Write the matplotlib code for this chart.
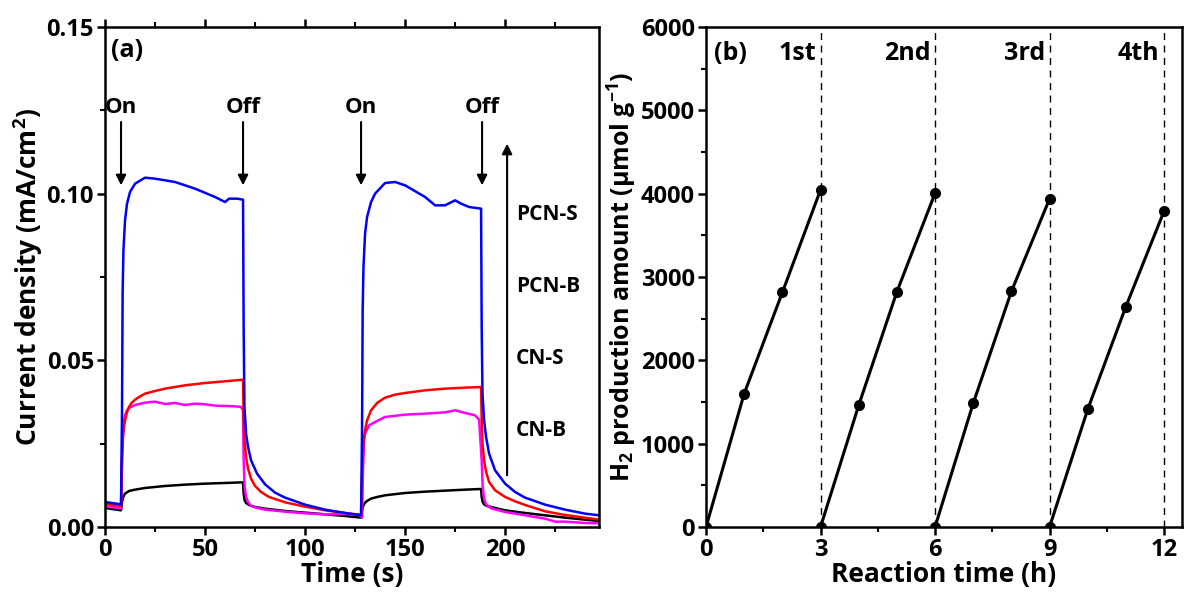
import numpy as np
import matplotlib
matplotlib.use('Agg')
import matplotlib.pyplot as plt

plt.rcParams['font.family'] = ['Open Sans', 'DejaVu Sans']
plt.rcParams['font.weight'] = 'bold'
plt.rcParams['mathtext.fontset'] = 'custom'
plt.rcParams['mathtext.rm'] = 'Open Sans:bold'
plt.rcParams['mathtext.bf'] = 'Open Sans:bold'
plt.rcParams['axes.linewidth'] = 1.8

# ---- panel (a): photocurrent transients (time in s, current in mA/cm2) ----
t_pcns = [0, 8, 8.5, 8.8, 9.2, 10, 11, 12.5, 15, 20, 25, 35, 45, 55, 60, 62,
          66, 69, 69.3, 69.7, 70.5, 71.5, 73, 76, 80, 85, 90, 100, 110, 120,
          128, 128.5, 128.8, 129.2, 130, 131, 133, 135, 140, 145, 150, 160,
          165, 170, 175, 178, 182, 188, 188.3, 188.7, 189.5, 190.5, 192, 195,
          200, 205, 210, 220, 230, 240, 247]
j_pcns = [0.0075, 0.0068, 0.035, 0.070, 0.083, 0.092, 0.097, 0.1005, 0.1030,
          0.1048, 0.1045, 0.1035, 0.1015, 0.0990, 0.0975, 0.0985, 0.0985,
          0.0982, 0.060, 0.036, 0.028, 0.024, 0.020, 0.0160, 0.0128, 0.0103,
          0.0088, 0.0067, 0.0052, 0.0042, 0.0035, 0.030, 0.065, 0.078, 0.088,
          0.093, 0.0975, 0.1000, 0.1032, 0.1035, 0.1025, 0.0990, 0.0965,
          0.0965, 0.0980, 0.0970, 0.0960, 0.0955, 0.060, 0.040, 0.032, 0.027,
          0.022, 0.0170, 0.0130, 0.0105, 0.0088, 0.0067, 0.0052, 0.0040,
          0.0035]

t_cns = [0, 8, 8.5, 9, 9.5, 10, 11, 12, 13, 15, 17, 20, 25, 30, 40, 50, 60,
         69, 69.3, 69.7, 70.5, 71.5, 73, 75, 78, 82, 90, 100, 110, 120, 128,
         128.5, 129, 129.5, 130, 131, 133, 136, 140, 145, 150, 160, 170, 180,
         188, 188.3, 188.7, 189.5, 190.5, 192, 195, 200, 205, 210, 220, 230,
         240, 247]
j_cns = [0.0069, 0.0063, 0.020, 0.027, 0.030, 0.0320, 0.0345, 0.0360, 0.0370,
         0.0382, 0.0390, 0.0400, 0.0408, 0.0415, 0.0425, 0.0432, 0.0437,
         0.0442, 0.032, 0.026, 0.021, 0.0175, 0.0145, 0.0123, 0.0105, 0.0090,
         0.0074, 0.0061, 0.0050, 0.0042, 0.0036, 0.015, 0.023, 0.027, 0.029,
         0.0320, 0.0350, 0.0372, 0.0388, 0.0397, 0.0402, 0.0410, 0.0415,
         0.0418, 0.0420, 0.032, 0.025, 0.020, 0.0165, 0.0135, 0.0110, 0.0090,
         0.0077, 0.0066, 0.0047, 0.0036, 0.0028, 0.0022]

t_cnb = [0, 8, 8.5, 9, 9.5, 10, 11, 12, 15, 20, 25, 30, 35, 40, 45, 50, 55,
         60, 65, 68, 69, 69.3, 69.8, 70.5, 71.5, 73, 76, 80, 90, 100, 110, 120,
         127, 128.5, 129, 129.5, 130, 132, 135, 140, 150, 160, 170, 175, 180,
         185, 187, 188.3, 188.8, 189.5, 190.5, 193, 200, 210, 220, 225, 230,
         240, 247]
j_cnb = [0.0062, 0.0056, 0.020, 0.029, 0.0320, 0.0335, 0.0350, 0.0357,
         0.0366, 0.0373, 0.0376, 0.0369, 0.0372, 0.0366, 0.0370, 0.0368,
         0.0364, 0.0363, 0.0362, 0.0360, 0.0350, 0.020, 0.012, 0.0090, 0.0075,
         0.0063, 0.0057, 0.0052, 0.0046, 0.0041, 0.0038, 0.0039, 0.0038,
         0.0028, 0.018, 0.026, 0.028, 0.0305, 0.0315, 0.0330, 0.0337, 0.0340,
         0.0344, 0.0350, 0.0342, 0.0335, 0.0322, 0.020, 0.012, 0.0085,
         0.0068, 0.0056, 0.0045, 0.0035, 0.0025, 0.0016, 0.0016, 0.0012,
         0.0011]

t_cnbk = [0, 8, 8.5, 9, 9.5, 10, 11, 12, 15, 20, 30, 40, 50, 60, 69, 69.3,
          69.8, 70.5, 72, 75, 80, 90, 100, 110, 120, 128, 128.5, 129, 129.5,
          130, 131, 133, 136, 140, 150, 160, 170, 180, 188, 188.3, 188.8,
          189.5, 191, 195, 200, 210, 220, 230, 240, 247]
j_cnbk = [0.0057, 0.0050, 0.0075, 0.0088, 0.0095, 0.0100, 0.0104, 0.0108,
          0.0112, 0.0117, 0.0123, 0.0127, 0.0130, 0.0132, 0.0134, 0.0100,
          0.0080, 0.0072, 0.0066, 0.0060, 0.0055, 0.0048, 0.0043, 0.0038,
          0.0033, 0.0028, 0.0050, 0.0062, 0.0068, 0.0073, 0.0078, 0.0085,
          0.0090, 0.0095, 0.0102, 0.0106, 0.0109, 0.0112, 0.0114, 0.0090,
          0.0075, 0.0068, 0.0063, 0.0057, 0.0050, 0.0042, 0.0035, 0.0028,
          0.0022, 0.0018]

sample_names = ['PCN-S', 'PCN-B', 'CN-S', 'CN-B']
name_levels = [0.0936, 0.0720, 0.0504, 0.0290]
switch_labels = ['On', 'Off', 'On', 'Off']
switch_times = [8, 69, 128, 188.5]

# ---- panel (b): cycling H2 evolution ----
cycle_names = ['1st', '2nd', '3rd', '4th']
cycle_t = [[0, 1, 2, 3], [3, 4, 5, 6], [6, 7, 8, 9], [9, 10, 11, 12]]
cycle_h2 = [[0, 1600, 2815, 4045], [0, 1460, 2822, 4005],
            [0, 1484, 2826, 3937], [0, 1411, 2645, 3790]]

fig = plt.figure(figsize=(11.84, 5.96), dpi=100)
ax1 = fig.add_axes([0.0887, 0.1158, 0.4173, 0.8389])
ax2 = fig.add_axes([0.5963, 0.1158, 0.4020, 0.8389])

lw = 1.8
ax1.plot(t_cnbk, j_cnbk, color='black', lw=lw)
ax1.plot(t_cnb, j_cnb, color='magenta', lw=lw)
ax1.plot(t_cns, j_cns, color='red', lw=lw)
ax1.plot(t_pcns, j_pcns, color='blue', lw=lw)

ax1.set_xlim(0, 247)
ax1.set_ylim(0, 0.15)
ax1.set_xticks([0, 50, 100, 150, 200])
ax1.set_xticks(np.arange(25, 247, 50), minor=True)
ax1.set_yticks([0, 0.05, 0.10, 0.15])
ax1.set_yticks([0.025, 0.075, 0.125], minor=True)
ax1.set_yticklabels(['0.00', '0.05', '0.10', '0.15'])
ax1.set_xlabel('Time (s)', fontsize=19, fontweight='bold', labelpad=-1)
ax1.set_ylabel('Current density (mA/cm$^{2}$)', fontsize=19,
               fontweight='bold', labelpad=1)

ax1.text(3, 0.143, '(a)', fontsize=18, fontweight='bold', va='center')
for lab, ts in zip(switch_labels, switch_times):
    ax1.text(ts, 0.1257, lab, fontsize=16, fontweight='bold',
             ha='center', va='center')
    ax1.annotate('', xy=(ts, 0.1025), xytext=(ts, 0.1215),
                 arrowprops=dict(arrowstyle='-|>', color='black', lw=1.5,
                                 mutation_scale=15, shrinkA=0, shrinkB=0))
ax1.annotate('', xy=(201, 0.115), xytext=(201, 0.0155),
             arrowprops=dict(arrowstyle='-|>', color='black', lw=1.5,
                             mutation_scale=15, shrinkA=0, shrinkB=0))
for nm, lv in zip(sample_names, name_levels):
    ax1.text(205.5, lv, nm, fontsize=15, fontweight='bold', va='center')

for tt, hh in zip(cycle_t, cycle_h2):
    ax2.plot(tt, hh, color='black', lw=2.2, marker='o', markersize=7)
for nm, tt in zip(cycle_names, cycle_t):
    ax2.axvline(tt[-1], ymax=1, color='black', lw=1.0, ls=(0, (5, 4)))
    ax2.text(tt[-1] - 0.12, 5680, nm, fontsize=18, fontweight='bold',
             ha='right', va='center')
ax2.text(0.2, 5680, '(b)', fontsize=18, fontweight='bold', va='center')

ax2.set_xlim(0, 12.47)
ax2.set_ylim(0, 6000)
ax2.set_xticks([0, 3, 6, 9, 12])
ax2.set_xticks([1.5, 4.5, 7.5, 10.5], minor=True)
ax2.set_yticks(np.arange(0, 6001, 1000))
ax2.set_yticks(np.arange(500, 6000, 1000), minor=True)
ax2.set_xlabel('Reaction time (h)', fontsize=19, fontweight='bold',
               labelpad=-1)
ax2.set_ylabel('H$_{2}$ production amount (µmol g$^{-1}$)', fontsize=18,
               fontweight='bold', labelpad=1)

for ax in (ax1, ax2):
    ax.tick_params(which='major', direction='out', length=6, width=1.8,
                   labelsize=17, pad=2)
    ax.tick_params(which='minor', direction='out', length=3.5, width=1.5)
    for lbl in ax.get_xticklabels() + ax.get_yticklabels():
        lbl.set_fontweight('bold')
ax1.tick_params(axis='x', which='both', top=True)

fig.savefig('out.png', dpi=100)
